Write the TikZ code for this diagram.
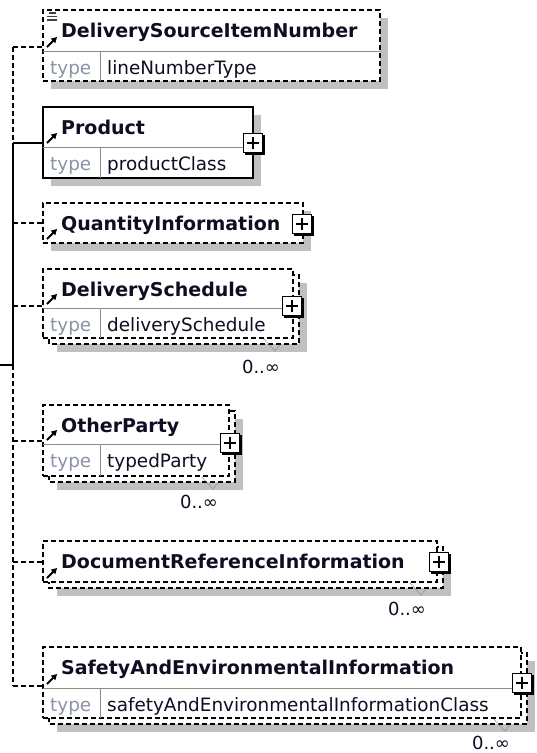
\documentclass[tikz,border=0pt]{standalone}
\usepackage{fontspec}
\setmainfont{DejaVu Sans}
\usetikzlibrary{arrows.meta}
\definecolor{xsdink}{HTML}{0E0E22}
\definecolor{xsdmuted}{HTML}{8A93A6}
\definecolor{xsdrule}{HTML}{8C8C8C}
\definecolor{xsdshadow}{HTML}{C0C0C0}
\tikzset{
  elemname/.style={font=\fontsize{19}{22}\selectfont\bfseries, text=xsdink,
    anchor=base west, inner sep=0pt},
  typelabel/.style={font=\fontsize{18.4}{22}\selectfont, text=xsdmuted,
    anchor=base west, inner sep=0pt},
  typevalue/.style={font=\fontsize{18.4}{22}\selectfont, text=xsdink,
    anchor=base west, inner sep=0pt},
  cardlabel/.style={font=\fontsize{18}{20}\selectfont, text=xsdink,
    anchor=base, inner sep=0pt},
  elembox/.style={fill=white, line width=1.3pt, anchor=north west,
    inner sep=0pt, outer sep=0pt},
  optbox/.style={elembox, draw=black, dash pattern=on 5pt off 3pt},
  reqbox/.style={elembox, draw=black},
  backbox/.style={draw=black, fill=white, line width=1.3pt, dash pattern=on 5pt off 3pt},
  rowrule/.style={draw=xsdrule, line width=1pt},
  optlink/.style={draw=black, line width=1.3pt, dash pattern=on 5pt off 3pt},
  reqlink/.style={draw=black, line width=1.3pt},
  refmark/.style={-{Triangle[length=5.5pt,width=6pt]}, line width=2pt},
  cardtick/.style={draw=xsdrule, line width=1pt, densely dotted},
  expander/.style={draw=black, fill=white, line width=1pt, minimum size=19pt,
    inner sep=0pt, outer sep=0pt}
}

\begin{document}
\begin{tikzpicture}[x=1pt,y=-1pt]
  \useasboundingbox (0,0) rectangle (536,753);
  % shadows, then the stacked boxes of the repeating elements
  \foreach \l/\t/\r/\b in {51/18/388/89, 51/115/261/186, 51/211/311/251,
      57/283/307/352, 57/419/243/490, 57/555/451/596, 57/661/535/732} {
    \fill[xsdshadow] (\l,\t) rectangle (\r,\b);
  }
  \foreach \l/\t/\r/\b in {49/275/299/344, 49/411/235/482, 49/547/443/588, 49/653/527/724} {
    \draw[backbox] (\l,\t) rectangle (\r,\b);
  }

  % element boxes
  \node[optbox, minimum width=337pt, minimum height=71pt] (dsin) at (43,10) {};
  \node[reqbox, minimum width=210pt, minimum height=71pt] (product) at (43,107) {};
  \node[optbox, minimum width=260pt, minimum height=40pt] (qty) at (43,203) {};
  \node[optbox, minimum width=250pt, minimum height=69pt] (ds) at (43,269) {};
  \node[optbox, minimum width=186pt, minimum height=71pt] (op) at (43,405) {};
  \node[optbox, minimum width=394pt, minimum height=41pt] (doc) at (43,541) {};
  \node[optbox, minimum width=478pt, minimum height=71pt] (safety) at (43,647) {};

  % name row / type row
  \foreach \n/\h in {dsin/41, product/40, ds/39, op/39, safety/41} {
    \draw[rowrule] ([yshift=-\h pt]\n.north west) -- ([yshift=-\h pt]\n.north east);
    \draw[rowrule] ([xshift=57pt,yshift=-\h pt]\n.north west) -- ([xshift=57pt]\n.south west);
  }
  \foreach \n/\b/\v in {dsin/37/DeliverySourceItemNumber, product/134/Product,
      qty/230/QuantityInformation, ds/296/DeliverySchedule, op/432/OtherParty,
      doc/568/DocumentReferenceInformation, safety/674/SafetyAndEnvironmentalInformation} {
    \node[elemname] (\n-name) at (61,\b) {\v};
  }
  \foreach \n/\b/\v in {dsin/74/lineNumberType, product/170/productClass,
      ds/331/deliverySchedule, op/467/typedParty,
      safety/711/safetyAndEnvironmentalInformationClass} {
    \node[typelabel] (\n-type) at (50,\b) {type};
    \node[typevalue] (\n-value) at (107,\b) {\v};
  }

  % reference arrows and the id mark
  \foreach \y in {47,143,239,304,440,578,684} {
    \draw[refmark] (47,\y) -- (57,\y-10);
  }
  \draw[line width=1.3pt, black!75] (49,13) -- (56,13) (47,16.5) -- (57,16.5) (47,20) -- (57,20);

  % expand buttons
  \foreach \n/\x/\y in {product/253/143, qty/302/224, ds/292/306, op/230/443,
      doc/439/562, safety/522/683} {
    \fill (\x-8,\y-8) rectangle (\x+11.5,\y+11.5);
    \node[expander] (\n-plus) at (\x,\y) {};
    \draw[line width=1.4pt] (\n-plus.center) ++(-6,0) -- ++(12,0)
      (\n-plus.center) ++(0,-6) -- ++(0,12);
  }

  % occurrence labels
  \foreach \n/\x/\f/\b in {ds/261/338/373, op/199/476/508, doc/407/582/615, safety/491/718/749} {
    \draw[cardtick] (\x+3,\f+1) -- (\x+14,\f+13) -- (\x+19,\f+7);
    \node[cardlabel] (\n-card) at (\x,\b) {0..∞};
  }

  % sequence connectors
  \coordinate (trunkdsin) at (13,47);
  \coordinate (trunkproduct) at (13,143);
  \coordinate (trunkqty) at (13,223);
  \coordinate (trunkds) at (13,306);
  \coordinate (trunkop) at (13,441);
  \coordinate (trunkdoc) at (13,562);
  \coordinate (trunksafety) at (13,686);
  \coordinate (seqhub) at (13,365);
  \coordinate (seqparent) at (0,365);
  \draw[optlink] (trunkdsin) -- (trunkproduct);
  \draw[reqlink] (trunkproduct) -- (seqhub);
  \draw[reqlink] (seqparent) -- (seqhub);
  \draw[optlink] (seqhub) -- (trunksafety);
  \draw[reqlink] (trunkproduct) -- (product.west |- trunkproduct);
  \foreach \n/\t in {dsin/trunkdsin, qty/trunkqty, ds/trunkds, op/trunkop,
      doc/trunkdoc, safety/trunksafety} {
    \draw[optlink] (\t) -- (\n.west |- \t);
  }
\end{tikzpicture}
\end{document}
